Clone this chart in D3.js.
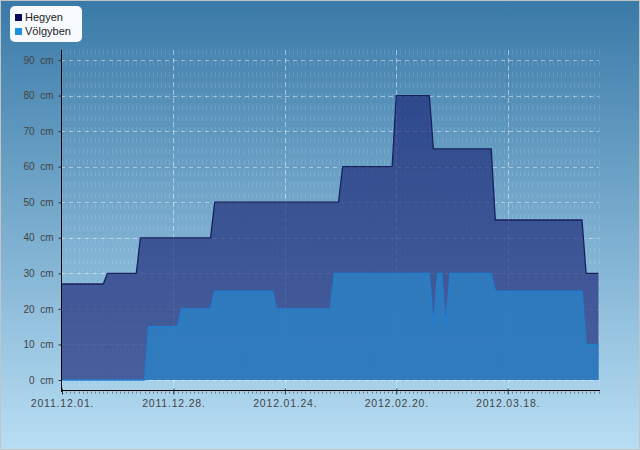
<!DOCTYPE html>

<head>
    <meta charset="utf-8">
    <script src="https://d3js.org/d3.v7.min.js"></script>
    <style>
        body {
            margin: 0;
        }

        svg {
            display: block;
            font-family: "Liberation Sans", Arial, sans-serif;
        }
    </style>
</head>

<body>
    <script>
        // snow depth, one value per day from 2011.12.01.
        const startDay = "2011-12-01";
        const seriesNames = ["Hegyen", "Völgyben"];
        const hegyen = [
            27, 27, 27, 27, 27, 27, 27, 27, 27, 27, 27,
            30, 30, 30, 30, 30, 30, 30, 30,
            40, 40, 40, 40, 40, 40, 40, 40, 40, 40, 40, 40, 40, 40, 40, 40, 40, 40,
            50, 50, 50, 50, 50, 50, 50, 50, 50, 50, 50, 50, 50, 50, 50, 50,
            50, 50, 50, 50, 50, 50, 50, 50, 50, 50, 50, 50, 50, 50, 50,
            60, 60, 60, 60, 60, 60, 60, 60, 60, 60, 60, 60, 60,
            80, 80, 80, 80, 80, 80, 80, 80, 80,
            65, 65, 65, 65, 65, 65, 65, 65, 65, 65, 65, 65, 65, 65, 65,
            45, 45, 45, 45, 45, 45, 45, 45, 45, 45, 45,
            45, 45, 45, 45, 45, 45, 45, 45, 45, 45, 45,
            30, 30, 30, 30
        ];
        const volgyben = [
            0, 0, 0, 0, 0, 0, 0, 0, 0, 0, 0, 0, 0, 0, 0, 0, 0, 0, 0, 0, 0,
            15, 15, 15, 15, 15, 15, 15, 15,
            20, 20, 20, 20, 20, 20, 20, 20,
            25, 25, 25, 25, 25, 25, 25, 25, 25, 25, 25, 25, 25, 25, 25,
            20, 20, 20, 20, 20, 20, 20, 20, 20, 20, 20, 20, 20, 20,
            30, 30, 30, 30, 30, 30, 30, 30, 30, 30, 30, 30,
            30, 30, 30, 30, 30, 30, 30, 30, 30, 30, 30, 30,
            15, 30, 30, 15,
            30, 30, 30, 30, 30, 30, 30, 30, 30, 30, 30,
            25, 25, 25, 25, 25, 25, 25, 25, 25, 25, 25,
            25, 25, 25, 25, 25, 25, 25, 25, 25, 25, 25,
            10, 10, 10, 10
        ];
        const xTickDates = ["2011-12-01", "2011-12-28", "2012-01-24", "2012-02-20", "2012-03-18"];
        const xTickLabels = ["2011.12.01.", "2011.12.28.", "2012.01.24.", "2012.02.20.", "2012.03.18."];
        const yTicks = [0, 10, 20, 30, 40, 50, 60, 70, 80, 90];

        const W = 640, H = 450;
        const parse = d3.utcParse("%Y-%m-%d");
        const day0 = parse(startDay);
        const days = hegyen.map((d, i) => d3.utcDay.offset(day0, i));

        const svg = d3.select("body").append("svg").attr("width", W).attr("height", H);

        const defs = svg.append("defs");
        const grad = defs.append("linearGradient").attr("id", "bg")
            .attr("x1", 0).attr("y1", 0).attr("x2", 0).attr("y2", 1);
        grad.append("stop").attr("offset", "0%").attr("stop-color", "#3a7aa8");
        grad.append("stop").attr("offset", "100%").attr("stop-color", "#b8def4");

        svg.append("rect").attr("x", 0.5).attr("y", 0.5).attr("width", W - 1).attr("height", H - 1)
            .attr("fill", "url(#bg)").attr("stroke", "#c4c4c4");

        const x = d3.scaleUtc().domain([days[0], days[days.length - 1]]).range([62, 598.5]);
        const y = d3.scaleLinear().domain([0, 90]).range([380, 60]);
        const plotTop = 50, axisY = 390, left = 61, right = 599;

        // minor vertical grid, one per day
        svg.append("g").selectAll("line").data(days).join("line")
            .attr("x1", d => Math.round(x(d)) + 0.5).attr("x2", d => Math.round(x(d)) + 0.5)
            .attr("y1", plotTop).attr("y2", axisY)
            .attr("stroke", "#fff").attr("stroke-opacity", 0.13)
            .attr("stroke-dasharray", "5,6");

        // horizontal grid
        svg.append("g").selectAll("line").data(yTicks).join("line")
            .attr("x1", left).attr("x2", right)
            .attr("y1", d => Math.round(y(d)) + 0.5).attr("y2", d => Math.round(y(d)) + 0.5)
            .attr("stroke", "#fff").attr("stroke-opacity", 0.45)
            .attr("stroke-dasharray", "4,4");

        // major vertical grid
        svg.append("g").selectAll("line").data(xTickDates.slice(1)).join("line")
            .attr("x1", d => Math.round(x(parse(d))) + 0.5).attr("x2", d => Math.round(x(parse(d))) + 0.5)
            .attr("y1", plotTop).attr("y2", axisY)
            .attr("stroke", "#fff").attr("stroke-opacity", 0.45)
            .attr("stroke-dasharray", "5,3");

        const area = vals => d3.area()
            .x((d, i) => x(days[i]))
            .y0(y(0))
            .y1(d => y(d))(vals);
        const line = vals => d3.line()
            .x((d, i) => x(days[i]))
            .y(d => y(d))(vals);

        svg.append("path").attr("d", area(hegyen))
            .attr("fill", "#1c2a78").attr("fill-opacity", 0.68);
        svg.append("path").attr("d", area(volgyben))
            .attr("fill", "#2a84c8").attr("fill-opacity", 0.78);
        svg.append("path").attr("d", line(hegyen))
            .attr("fill", "none").attr("stroke", "#17215e").attr("stroke-width", 1.3);
        svg.append("path").attr("d", line(volgyben))
            .attr("fill", "none").attr("stroke", "#1f7fd0").attr("stroke-width", 1.3);

        // y axis
        const yAxis = svg.append("g").attr("transform", `translate(${left + 0.5},0)`)
            .call(d3.axisLeft(y).tickValues(yTicks).tickSize(3).tickPadding(5)
                .tickFormat(d => d + "\u00a0 cm"));
        yAxis.select(".domain").attr("d", `M0,${plotTop}V${axisY + 2}`).attr("stroke", "#000");
        yAxis.selectAll(".tick line").attr("stroke", "#333").attr("x2", 0).attr("x1", -3);
        yAxis.selectAll("text").attr("fill", "#444").attr("font-size", 10)
            .attr("font-family", "Liberation Sans, Arial, sans-serif");

        // x axis: minor daily ticks plus labelled major ticks
        const xAxis = svg.append("g").attr("transform", `translate(0,${axisY + 0.5})`);
        xAxis.append("g").selectAll("line").data(days).join("line")
            .attr("x1", d => Math.round(x(d)) + 0.5).attr("x2", d => Math.round(x(d)) + 0.5)
            .attr("y1", 1).attr("y2", 3).attr("stroke", "#777");
        xAxis.call(d3.axisBottom(x).tickValues(xTickDates.map(parse)).tickSize(4).tickPadding(5)
            .tickFormat((d, i) => xTickLabels[i]));
        xAxis.select(".domain").attr("d", `M${left},0H${right + 1}`).attr("stroke", "#000");
        xAxis.selectAll(".tick line").attr("stroke", "#333").attr("y1", -2).attr("y2", 4);
        xAxis.selectAll(".tick text").attr("fill", "#444").attr("font-size", 10.5)
            .attr("letter-spacing", 0.8)
            .attr("font-family", "Liberation Sans, Arial, sans-serif");

        // legend
        const legend = svg.append("g").attr("transform", "translate(10,6)");
        legend.append("rect").attr("width", 72).attr("height", 36).attr("rx", 5)
            .attr("fill", "#f7fbff");
        const legendColors = ["#0b0b5c", "#1e90e0"];
        seriesNames.forEach((name, i) => {
            legend.append("rect").attr("x", 5).attr("y", 8 + i * 14).attr("width", 7).attr("height", 7)
                .attr("fill", legendColors[i]);
            legend.append("text").attr("x", 15).attr("y", 15 + i * 14)
                .attr("font-size", 11).attr("fill", "#222").text(name);
        });
    </script>
</body>
